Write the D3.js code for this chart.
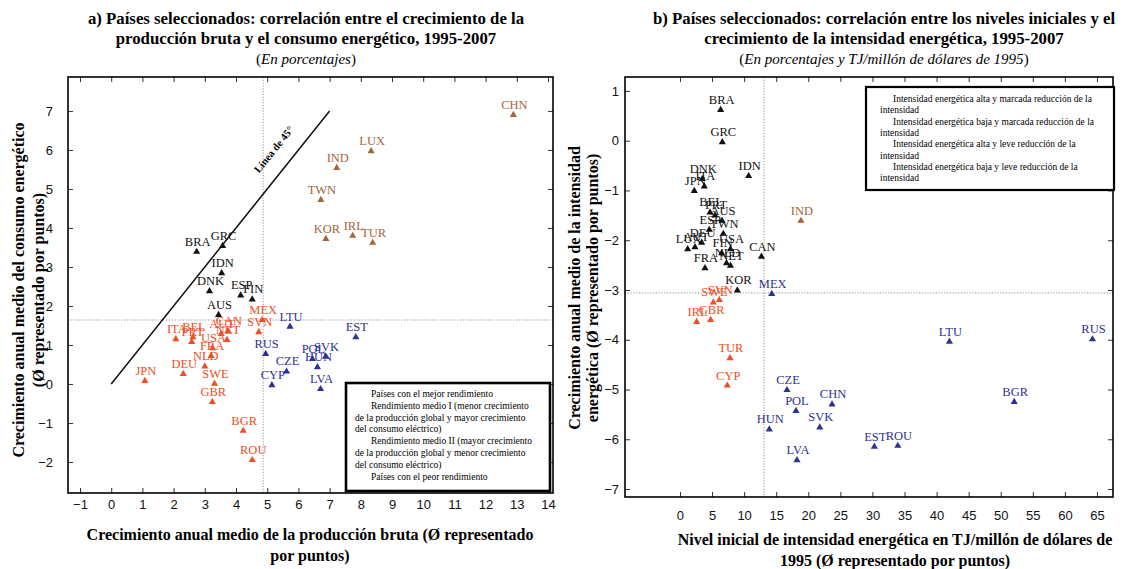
<!DOCTYPE html>
<html lang="es">
<head>
<meta charset="UTF-8">
<title>Países seleccionados: producción, consumo e intensidad energética</title>
<style>
  body { margin: 0; background: #fff; }
  svg { display: block; font-family: "Liberation Serif", "DejaVu Serif", serif; }
  .tick text { font-size: 13px; fill: #111; }
  .ptlabel { font-size: 12.5px; }
  .title { font-weight: bold; font-size: 16.8px; }
  .subtitle { font-weight: normal; font-size: 15px; }
  .axtitle { font-weight: bold; font-size: 16px; }
  .legend text { font-size: 9.5px; }
</style>
</head>
<body>
<svg id="chart" width="1129" height="569"></svg>
<script src="https://d3js.org/d3.v7.min.js"></script>
<script>
// ---- panel a: production growth (x) vs energy consumption growth (y)
const codesA = ['BRA','GRC','IDN','DNK','ESP','FIN','AUS',
  'MEX','SVN','ITA','BEL','PRT','AUT','CAN','NET','USA','FRA','NLD','DEU','JPN','SWE','GBR','BGR','ROU',
  'LTU','EST','RUS','POL','SVK','HUN','CZE','CYP','LVA',
  'CHN','LUX','IND','TWN','KOR','IRL','TUR'];
const xA = [2.74,3.57,3.54,3.15,4.15,4.52,3.44,
  4.84,4.73,2.07,2.62,2.58,3.52,3.74,3.71,3.25,3.2,3.0,2.31,1.08,3.31,3.24,4.23,4.52,
  5.73,7.84,4.95,6.45,6.87,6.61,5.62,5.15,6.71,
  12.89,8.33,7.23,6.72,6.88,7.74,8.38];
const yA = [3.39,3.54,2.84,2.38,2.27,2.17,1.77,
  1.64,1.33,1.15,1.2,1.08,1.28,1.36,1.13,0.92,0.72,0.45,0.26,0.08,0.01,-0.46,-1.2,-1.95,
  1.47,1.2,0.77,0.64,0.7,0.43,0.32,-0.03,-0.13,
  6.9,5.97,5.54,4.72,3.72,3.8,3.62];
const groupA = [0,0,0,0,0,0,0,
  1,1,1,1,1,1,1,1,1,1,1,1,1,1,1,1,1,
  2,2,2,2,2,2,2,2,2,
  3,3,3,3,3,3,3];
const ticksXA = d3.range(-1, 15);
const ticksYA = d3.range(-2, 8);
const meanA = [4.87, 1.64];
const line45 = [[0, 0], [7, 7]];

// ---- panel b: initial energy intensity (x) vs intensity growth (y)
const codesB = ['BRA','GRC','IDN','DNK','ITA','JPN','BEL','PRT','AUS','ESP','TWN','DEU','LUX','AUT',
  'FIN','USA','FRA','NLD','NET','CAN','KOR',
  'IND',
  'SWE','SVN','IRL','GBR','TUR','CYP',
  'MEX','CZE','POL','CHN','HUN','SVK','LVA','EST','ROU','LTU','BGR','RUS'];
const xB = [6.34,6.6,10.7,3.48,3.79,2.23,4.68,5.46,6.55,4.57,6.75,3.38,1.2,2.34,
  6.5,7.87,3.9,7.25,7.87,12.7,8.94,
  18.86,
  5.2,6.13,2.6,4.78,7.79,7.37,
  14.3,16.68,18.08,23.7,13.92,21.79,18.24,30.3,33.96,42.0,52.1,64.3];
const yB = [0.62,-0.03,-0.71,-0.77,-0.92,-1.01,-1.44,-1.5,-1.61,-1.79,-1.87,-2.05,-2.18,-2.14,
  -2.26,-2.18,-2.56,-2.46,-2.51,-2.33,-3.01,
  -1.61,
  -3.25,-3.2,-3.64,-3.6,-4.37,-4.92,
  -3.08,-5.01,-5.43,-5.3,-5.8,-5.76,-6.42,-6.15,-6.13,-4.04,-5.25,-3.99];
const groupB = [0,0,0,0,0,0,0,0,0,0,0,0,0,0,0,0,0,0,0,0,0,
  3,
  1,1,1,1,1,1,
  2,2,2,2,2,2,2,2,2,2,2,2];
const ticksXB = d3.range(0, 70, 5);
const ticksYB = d3.range(-7, 2);
const meanB = [13.1, -3.06];

const colors = ['#111111', '#f04e23', '#2e3192', '#a5653a'];

const legendA = [
  ['Países con el mejor rendimiento', true],
  ['Rendimiento medio I (menor crecimiento', true],
  ['de la producción  global y mayor crecimiento', false],
  ['del consumo eléctrico)', false],
  ['Rendimiento medio II (mayor crecimiento', true],
  ['de la producción  global y menor crecimiento', false],
  ['del consumo eléctrico)', false],
  ['Países con el peor rendimiento', true]
];
const legendB = [
  ['Intensidad energética alta y marcada reducción de la', true],
  ['intensidad', false],
  ['Intensidad energética baja y marcada reducción de la', true],
  ['intensidad', false],
  ['Intensidad energética alta y leve reducción de la', true],
  ['intensidad', false],
  ['Intensidad energética baja y leve reducción de la', true],
  ['intensidad', false]
];

const svg = d3.select('#chart');

function panel(o) {
  const g = svg.append('g');
  const x = d3.scaleLinear().domain(o.xDom).range([o.left, o.right]);
  const y = d3.scaleLinear().domain(o.yDom).range([o.bottom, o.top]);

  // dotted mean lines
  g.append('line').attr('x1', x(o.mean[0])).attr('x2', x(o.mean[0]))
    .attr('y1', o.top).attr('y2', o.bottom)
    .attr('stroke', '#777').attr('stroke-width', 0.8).attr('stroke-dasharray', '1.2,1.6');
  g.append('line').attr('x1', o.left).attr('x2', o.right)
    .attr('y1', y(o.mean[1])).attr('y2', y(o.mean[1]))
    .attr('stroke', '#777').attr('stroke-width', 0.8).attr('stroke-dasharray', '1.2,1.6');

  // axes with inward ticks
  g.append('g').attr('transform', `translate(0,${o.bottom})`)
    .call(d3.axisBottom(x).tickValues(o.xTicks).tickSize(-5).tickPadding(o.xPad))
    .call(a => a.select('.domain').remove());
  g.append('g').attr('transform', `translate(0,${o.top})`)
    .call(d3.axisTop(x).tickValues(o.xTicks).tickSize(-5).tickFormat(''))
    .call(a => a.select('.domain').remove());
  g.append('g').attr('transform', `translate(${o.left},0)`)
    .call(d3.axisLeft(y).tickValues(o.yTicks).tickSize(-5).tickPadding(o.yPad))
    .call(a => a.select('.domain').remove());
  g.append('g').attr('transform', `translate(${o.right},0)`)
    .call(d3.axisRight(y).tickValues(o.yTicks).tickSize(-5).tickFormat(''))
    .call(a => a.select('.domain').remove());
  g.selectAll('.tick line').attr('stroke', '#333');

  g.append('rect').attr('x', o.left).attr('y', o.top)
    .attr('width', o.right - o.left).attr('height', o.bottom - o.top)
    .attr('fill', 'none').attr('stroke', '#000').attr('stroke-width', 1.6);

  if (o.extra) o.extra(g, x, y);

  // points
  const pts = o.codes.map((c, i) => ({ c, x: o.xs[i], y: o.ys[i], g: o.groups[i] }));
  const tri = d3.symbol(d3.symbolTriangle).size(22);
  g.selectAll('path.pt').data(pts).join('path').attr('class', 'pt')
    .attr('d', tri)
    .attr('transform', d => `translate(${x(d.x)},${y(d.y)})`)
    .attr('fill', d => colors[d.g]);
  g.selectAll('text.ptlabel').data(pts).join('text').attr('class', 'ptlabel')
    .attr('x', d => x(d.x) + 1).attr('y', d => y(d.y) - 6)
    .attr('text-anchor', 'middle')
    .attr('fill', d => colors[d.g])
    .text(d => d.c);

  // legend
  const lg = g.append('g').attr('class', 'legend');
  const L = o.legend;
  lg.append('rect').attr('x', L.x).attr('y', L.y).attr('width', L.w).attr('height', L.h)
    .attr('fill', '#fff').attr('stroke', '#000').attr('stroke-width', L.sw);
  o.legendLines.forEach((l, i) => {
    lg.append('text').attr('x', l[1] ? L.tx + L.ind : L.tx).attr('y', L.ty + i * L.lh).text(l[0]);
  });

  // titles
  o.title.forEach((t, i) => {
    const tt = g.append('text').attr('class', i < 2 ? 'title' : 'subtitle')
      .attr('text-anchor', 'middle')
      .attr('x', o.titleX).attr('y', 24 + i * 20);
    if (i < 2) tt.text(t);
    else {
      tt.append('tspan').text('(');
      tt.append('tspan').attr('font-style', 'italic').text(t);
      tt.append('tspan').text(')');
    }
  });
  o.xTitle.forEach((t, i) => {
    g.append('text').attr('class', 'axtitle').attr('text-anchor', 'middle')
      .attr('x', o.xTitleX).attr('y', o.xTitleY + i * 21).text(t);
  });
  o.yTitle.forEach((t, i) => {
    g.append('text').attr('class', 'axtitle').attr('text-anchor', 'middle')
      .attr('transform', `translate(${o.yTitleX + i * o.yTitleGap},${o.yTitleY}) rotate(-90)`).text(t);
  });
}

panel({
  left: 68, right: 553, top: 77, bottom: 493,
  xDom: [-1.385, 14.16], yDom: [-2.795, 7.87],
  xTicks: ticksXA, yTicks: ticksYA, xPad: 7, yPad: 15,
  mean: meanA,
  codes: codesA, xs: xA, ys: yA, groups: groupA,
  legend: { x: 346, y: 383, w: 204, h: 108, sw: 2.6, tx: 355, ind: 16, ty: 397, lh: 11.8 },
  legendLines: legendA,
  title: ['a) Países seleccionados: correlación entre el crecimiento de la',
          'producción bruta y el consumo energético, 1995-2007', 'En porcentajes'],
  titleX: 306,
  xTitle: ['Crecimiento anual medio de la producción bruta (Ø representado', 'por puntos)'],
  xTitleX: 310, xTitleY: 540,
  yTitle: ['Crecimiento anual medio del consumo energético', '(Ø representado por puntos)'],
  yTitleX: 24, yTitleGap: 20, yTitleY: 290,
  extra: (g, x, y) => {
    g.append('path').datum(line45)
      .attr('d', d3.line().x(d => x(d[0])).y(d => y(d[1])))
      .attr('stroke', '#111').attr('stroke-width', 1.5).attr('fill', 'none');
    const ang = Math.atan2(y(0) - y(7), x(7) - x(0)) * 180 / Math.PI;
    const px = x(5.75) - 14, py = y(5.75) - 8;
    g.append('text').attr('transform', `translate(${px},${py}) rotate(${-ang})`)
      .attr('text-anchor', 'middle').attr('font-weight', 'bold').attr('font-size', '10.5px')
      .text('Línea de 45°');
  }
});

panel({
  left: 625, right: 1113, top: 77, bottom: 497,
  xDom: [-8.57, 67.5], yDom: [-7.16, 1.28],
  xTicks: ticksXB, yTicks: ticksYB, xPad: 14, yPad: 6,
  mean: meanB,
  codes: codesB, xs: xB, ys: yB, groups: groupB,
  legend: { x: 866, y: 87, w: 248, h: 103, sw: 2.2, tx: 880, ind: 13, ty: 102, lh: 11.3 },
  legendLines: legendB,
  title: ['b) Países seleccionados: correlación entre los niveles iniciales y el',
          'crecimiento de la intensidad energética, 1995-2007', 'En porcentajes y TJ/millón de dólares de 1995'],
  titleX: 884,
  xTitle: ['Nivel inicial de intensidad energética en TJ/millón de dólares de', '1995 (Ø representado por puntos)'],
  xTitleX: 895, xTitleY: 545,
  yTitle: ['Crecimiento anual medio de la intensidad', 'energética (Ø representado por puntos)'],
  yTitleX: 580, yTitleGap: 18, yTitleY: 288
});
</script>
</body>
</html>
